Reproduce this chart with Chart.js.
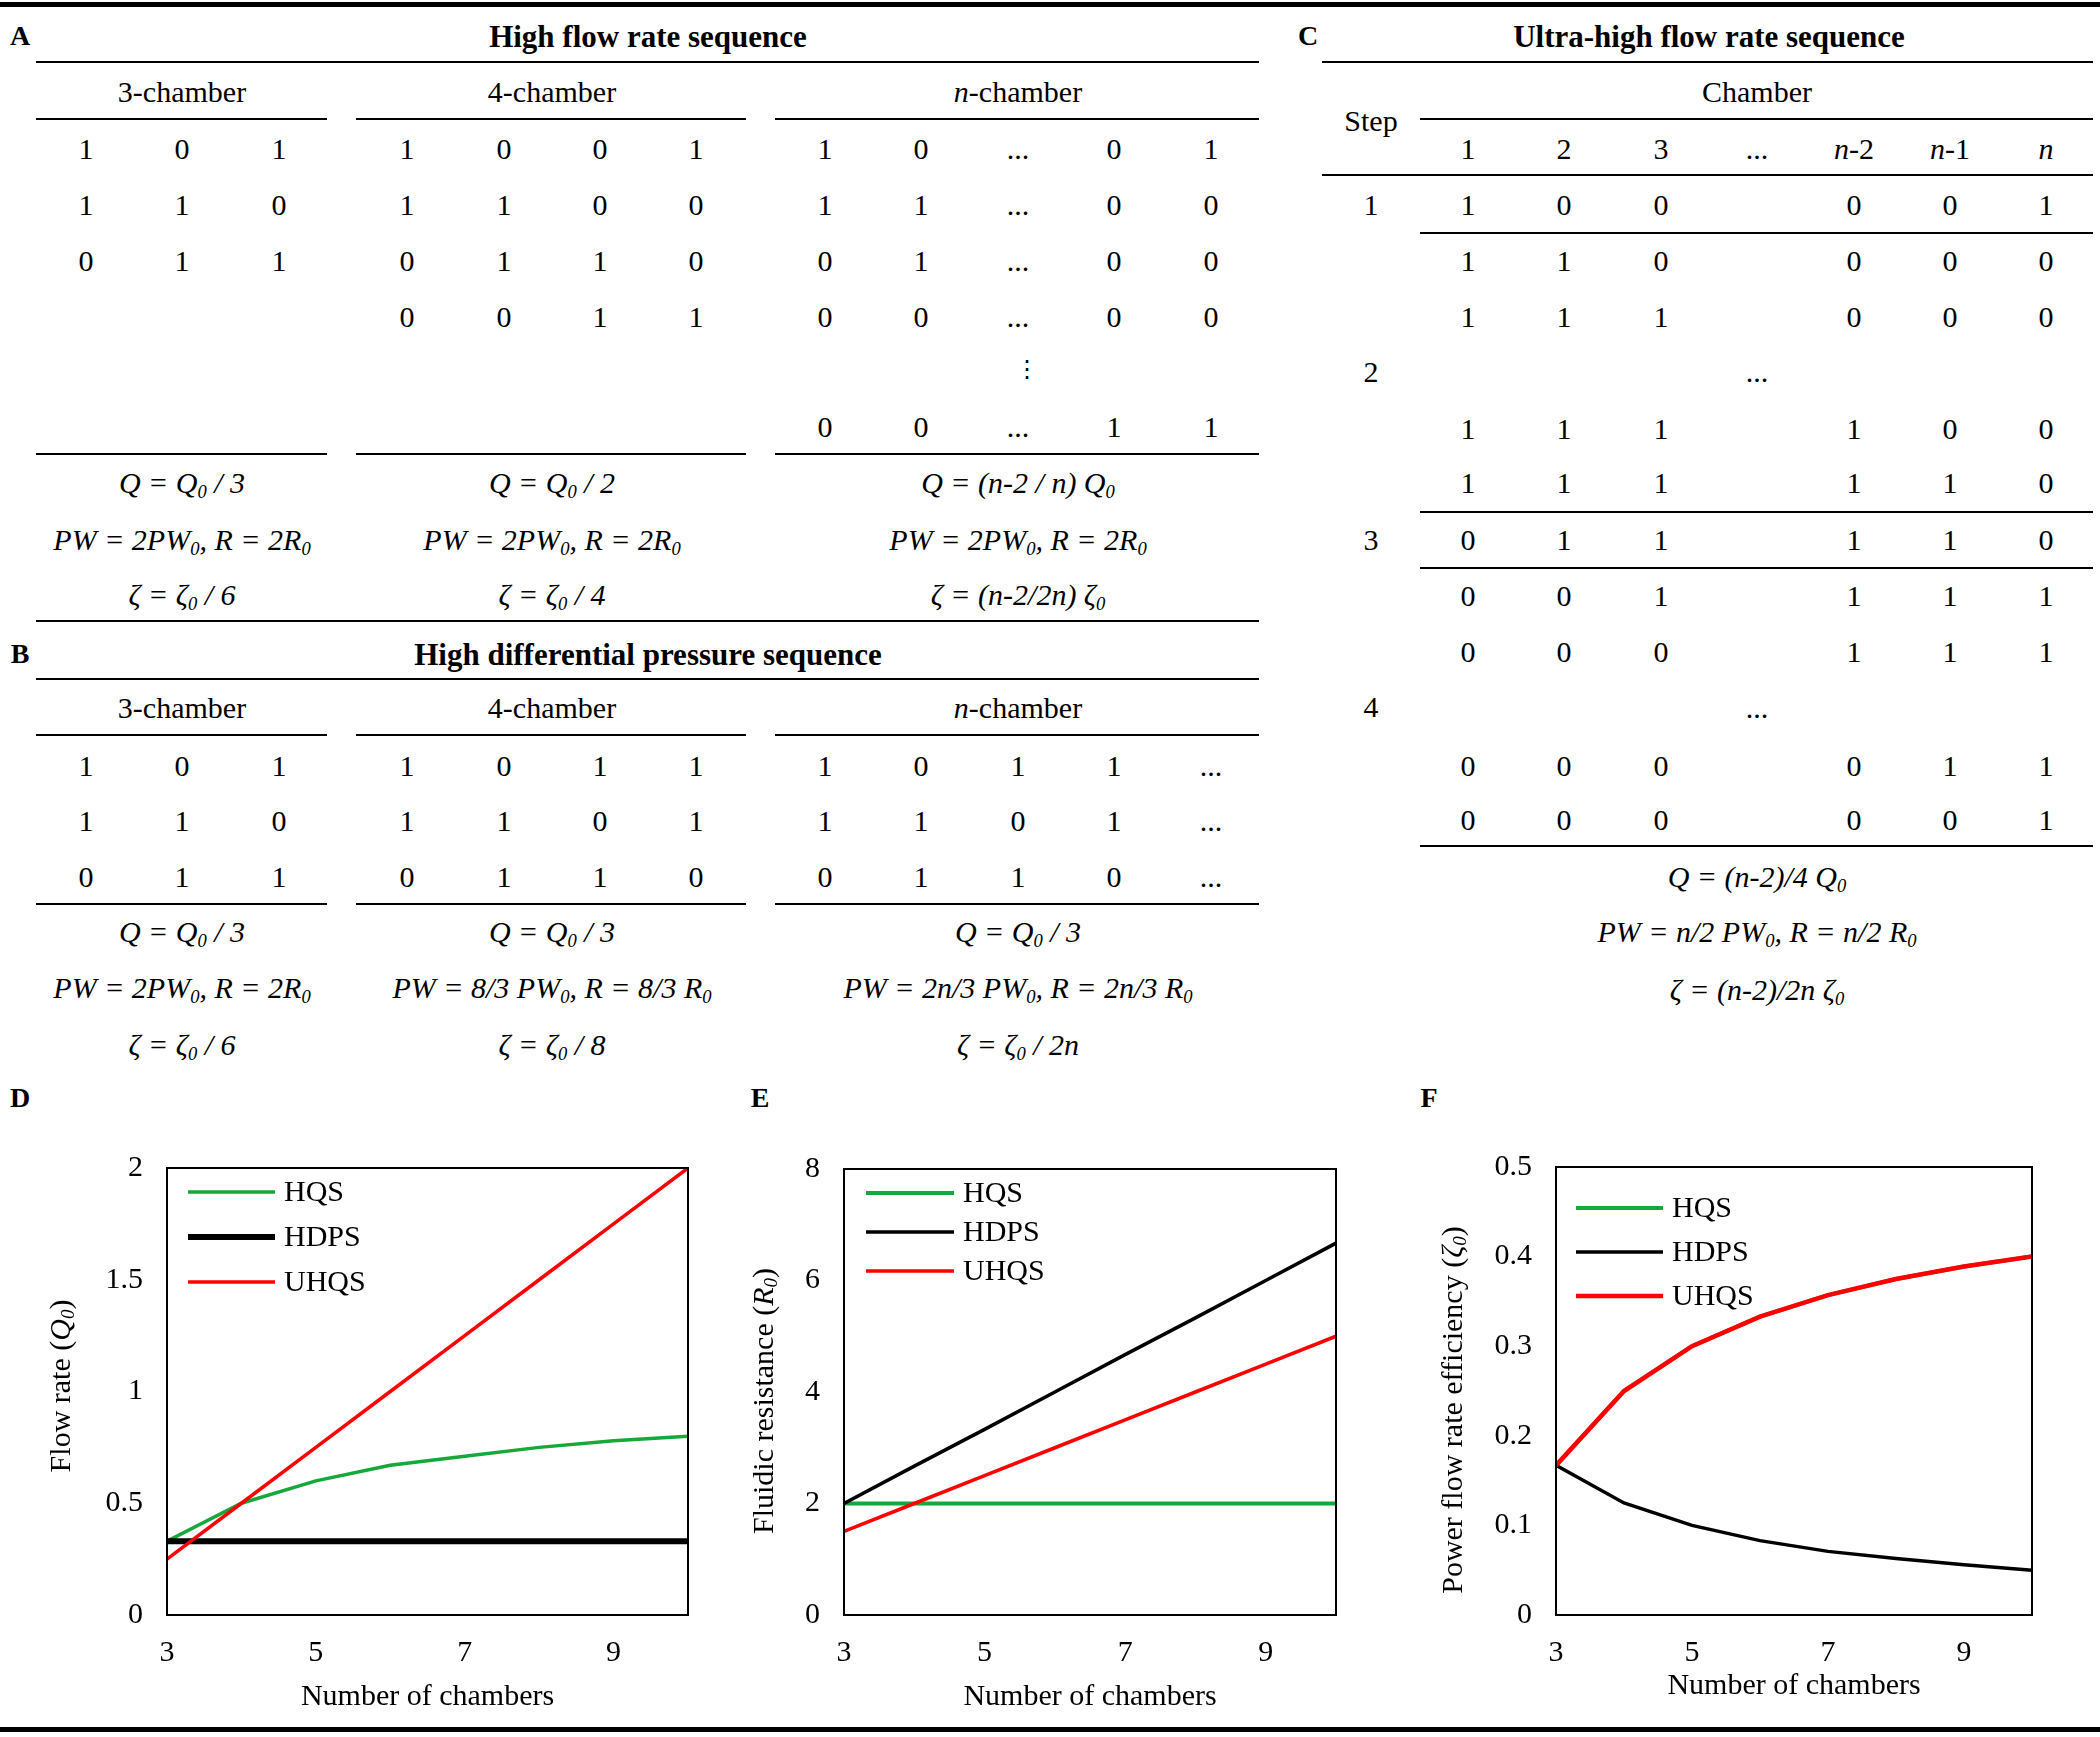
<!DOCTYPE html>
<html>
<head>
<meta charset="utf-8">
<script src="https://cdn.jsdelivr.net/npm/chart.js@4.4.1/dist/chart.umd.min.js"></script>
<style>
  body { margin: 0; background: #fff; }
  #page { position: relative; width: 2100px; height: 1737px; overflow: hidden; font-family: 'Liberation Serif', 'Times New Roman', serif; color: #000; }
  .t { position: absolute; transform: translate(-50%, -50%); white-space: nowrap; font-size: 30px; line-height: 1; }
  .b { font-weight: bold; font-size: 31px; }
  .i { font-style: italic; }
  .lab { font-weight: bold; font-size: 28px; }
  .vd { font-family: 'DejaVu Sans', sans-serif; font-size: 24px; }
  .ln { position: absolute; background: #000; }
  sub { font-size: 0.62em; vertical-align: -0.28em; line-height: 0; }
  canvas { position: absolute; }
</style>
</head>
<body>
<div id="page"></div>
<script>
// ---- table content ----
const hqsHeads = ['3-chamber', '4-chamber', '<i>n</i>-chamber'];
const hqs3 = [['1', '0', '1'], ['1', '1', '0'], ['0', '1', '1']];
const hqs4 = [['1', '0', '0', '1'], ['1', '1', '0', '0'], ['0', '1', '1', '0'], ['0', '0', '1', '1']];
const hqsN = [['1', '0', '...', '0', '1'], ['1', '1', '...', '0', '0'], ['0', '1', '...', '0', '0'],
              ['0', '0', '...', '0', '0'], ['', '', '⋮', '', ''], ['0', '0', '...', '1', '1']];
const hqsFormulas = [
  ['Q = Q<sub>0</sub> / 3', 'PW = 2PW<sub>0</sub>, R = 2R<sub>0</sub>', 'ζ = ζ<sub>0</sub> / 6'],
  ['Q = Q<sub>0</sub> / 2', 'PW = 2PW<sub>0</sub>, R = 2R<sub>0</sub>', 'ζ = ζ<sub>0</sub> / 4'],
  ['Q = (n-2 / n) Q<sub>0</sub>', 'PW = 2PW<sub>0</sub>, R = 2R<sub>0</sub>', 'ζ = (n-2/2n) ζ<sub>0</sub>']
];

const hdps3 = [['1', '0', '1'], ['1', '1', '0'], ['0', '1', '1']];
const hdps4 = [['1', '0', '1', '1'], ['1', '1', '0', '1'], ['0', '1', '1', '0']];
const hdpsN = [['1', '0', '1', '1', '...'], ['1', '1', '0', '1', '...'], ['0', '1', '1', '0', '...']];
const hdpsFormulas = [
  ['Q = Q<sub>0</sub> / 3', 'PW = 2PW<sub>0</sub>, R = 2R<sub>0</sub>', 'ζ = ζ<sub>0</sub> / 6'],
  ['Q = Q<sub>0</sub> / 3', 'PW = 8/3 PW<sub>0</sub>, R = 8/3 R<sub>0</sub>', 'ζ = ζ<sub>0</sub> / 8'],
  ['Q = Q<sub>0</sub> / 3', 'PW = 2n/3 PW<sub>0</sub>, R = 2n/3 R<sub>0</sub>', 'ζ = ζ<sub>0</sub> / 2n']
];

const uhqsHead = ['1', '2', '3', '...', '<i>n</i>-2', '<i>n</i>-1', '<i>n</i>'];
const uhqsSteps = ['1', '2', '3', '4'];
const uhqsRows = [
  ['1', '0', '0', '', '0', '0', '1'],
  ['1', '1', '0', '', '0', '0', '0'],
  ['1', '1', '1', '', '0', '0', '0'],
  ['', '', '', '...', '', '', ''],
  ['1', '1', '1', '', '1', '0', '0'],
  ['1', '1', '1', '', '1', '1', '0'],
  ['0', '1', '1', '', '1', '1', '0'],
  ['0', '0', '1', '', '1', '1', '1'],
  ['0', '0', '0', '', '1', '1', '1'],
  ['', '', '', '...', '', '', ''],
  ['0', '0', '0', '', '0', '1', '1'],
  ['0', '0', '0', '', '0', '0', '1']
];
const uhqsFormulas = ['Q = (n-2)/4 Q<sub>0</sub>', 'PW = n/2 PW<sub>0</sub>, R = n/2 R<sub>0</sub>', 'ζ = (n-2)/2n ζ<sub>0</sub>'];

// ---- chart data ----
const chambers = [3, 4, 5, 6, 7, 8, 9, 10];
const xTicks = [3, 5, 7, 9];
const seriesNames = ['HQS', 'HDPS', 'UHQS'];
const flowHQS = [0.33, 0.5, 0.6, 0.67, 0.71, 0.75, 0.78, 0.8];
const flowHDPS = [0.33, 0.33, 0.33, 0.33, 0.33, 0.33, 0.33, 0.33];
const flowUHQS = [0.25, 0.5, 0.75, 1, 1.25, 1.5, 1.75, 2];
const resHQS = [2, 2, 2, 2, 2, 2, 2, 2];
const resHDPS = [2, 2.67, 3.33, 4, 4.67, 5.33, 6, 6.67];
const resUHQS = [1.5, 2, 2.5, 3, 3.5, 4, 4.5, 5];
const effHQS = [0.167, 0.25, 0.3, 0.333, 0.357, 0.375, 0.389, 0.4];
const effHDPS = [0.167, 0.125, 0.1, 0.083, 0.071, 0.063, 0.056, 0.05];
const effUHQS = [0.167, 0.25, 0.3, 0.333, 0.357, 0.375, 0.389, 0.4];

const page = document.getElementById('page');

function put(html, x, y, cls) {
  const d = document.createElement('div');
  d.className = 't ' + (cls || '');
  d.innerHTML = html;
  d.style.left = x + 'px';
  d.style.top = y + 'px';
  page.appendChild(d);
  return d;
}

function hline(x1, x2, y, w) {
  w = w || 2;
  const d = document.createElement('div');
  d.className = 'ln';
  d.style.left = x1 + 'px';
  d.style.width = (x2 - x1) + 'px';
  d.style.top = (y - w / 2) + 'px';
  d.style.height = w + 'px';
  page.appendChild(d);
}

function cellClass(v) {
  return v === '⋮' ? 'vd' : '';
}

// frame rules
hline(0, 2100, 4, 5);
hline(0, 2100, 1729, 5);

// ---- panels A and B ----
const groupCols = [[86, 182, 279], [407, 504, 600, 696], [825, 921, 1018, 1114, 1211]];
const groupCenter = [182, 552, 1018];
const groupSpan = [[36, 327], [356, 746], [775, 1259]];

function seqTable(title, letter, grids, formulas, y) {
  put(letter, 20, y.title, 'lab');
  put(title, 648, y.title, 'b');
  hline(36, 1259, y.line1);
  grids.forEach((grid, g) => {
    put(hqsHeads[g], groupCenter[g], y.head);
    hline(groupSpan[g][0], groupSpan[g][1], y.line2);
    grid.forEach((row, r) => {
      row.forEach((v, c) => {
        if (v) put(v, groupCols[g][c] + (v === '⋮' ? 9 : 0), y.rows[r], cellClass(v));
      });
    });
    hline(groupSpan[g][0], groupSpan[g][1], y.line3);
    formulas[g].forEach((f, k) => put(f, groupCenter[g], y.formulas[k], 'i'));
  });
  if (y.line4) hline(36, 1259, y.line4);
}

seqTable('High flow rate sequence', 'A', [hqs3, hqs4, hqsN], hqsFormulas, {
  title: 36, line1: 62, head: 92, line2: 119,
  rows: [149, 205, 261, 317, 369, 427], line3: 454,
  formulas: [483, 540, 595], line4: 621
});

seqTable('High differential pressure sequence', 'B', [hdps3, hdps4, hdpsN], hdpsFormulas, {
  title: 654, line1: 679, head: 708, line2: 735,
  rows: [766, 821, 877], line3: 904,
  formulas: [932, 988, 1045]
});

// ---- panel C ----
const cCols = [1468, 1564, 1661, 1757, 1854, 1950, 2046];
const cRowY = [205, 261, 317, 372, 429, 483, 540, 596, 652, 708, 766, 820];
const cStepY = [205, 372, 540, 707];
put('C', 1308, 36, 'lab');
put('Ultra-high flow rate sequence', 1709, 36, 'b');
hline(1322, 2093, 62);
put('Chamber', 1757, 92);
put('Step', 1371, 121);
hline(1420, 2093, 119);
uhqsHead.forEach((h, c) => put(h, cCols[c], 149));
hline(1322, 2093, 175);
uhqsSteps.forEach((s, k) => put(s, 1371, cStepY[k]));
uhqsRows.forEach((row, r) => {
  row.forEach((v, c) => { if (v) put(v, cCols[c], cRowY[r]); });
});
hline(1420, 2093, 233);
hline(1420, 2093, 512);
hline(1420, 2093, 568);
hline(1420, 2093, 846);
uhqsFormulas.forEach((f, k) => put(f, 1757, [877, 932, 990][k], 'i'));

// ---- charts D, E, F ----
put('D', 20, 1098, 'lab');
put('E', 760, 1098, 'lab');
put('F', 1429, 1098, 'lab');

const serif = 'Liberation Serif';

function drawRich(ctx, segs, x, y) {
  const fontOf = s => (s.i ? 'italic ' : '') + (s.sub ? '19px ' : '30px ') + serif;
  let total = 0;
  segs.forEach(s => { ctx.font = fontOf(s); total += ctx.measureText(s.t).width; });
  let cx = x - total / 2;
  ctx.textAlign = 'left';
  ctx.textBaseline = 'middle';
  segs.forEach(s => {
    ctx.font = fontOf(s);
    ctx.fillText(s.t, cx, y + (s.sub ? 7 : 0));
    cx += ctx.measureText(s.t).width;
  });
}

const panelPlugin = {
  id: 'panel',
  afterDraw(chart, args, opts) {
    const ctx = chart.ctx;
    const a = chart.chartArea;
    ctx.save();
    ctx.strokeStyle = '#000';
    ctx.lineWidth = 2;
    ctx.strokeRect(a.left, a.top, a.right - a.left, a.bottom - a.top);

    // legend inside the plot
    const lg = opts.legend;
    chart.data.datasets.forEach((ds, k) => {
      const y = a.top + lg.dy + k * lg.gap;
      ctx.beginPath();
      ctx.strokeStyle = ds.borderColor;
      ctx.lineWidth = ds.borderWidth;
      ctx.moveTo(a.left + lg.dx, y);
      ctx.lineTo(a.left + lg.dx + lg.len, y);
      ctx.stroke();
      ctx.fillStyle = '#000';
      ctx.font = '30px ' + serif;
      ctx.textAlign = 'left';
      ctx.textBaseline = 'middle';
      ctx.fillText(ds.label, a.left + lg.dx + lg.len + 9, y + 1);
    });

    ctx.fillStyle = '#000';
    drawRich(ctx, [{ t: 'Number of chambers' }], (a.left + a.right) / 2, opts.xTitleY);
    ctx.translate(opts.yTitleX, opts.yTitleY);
    ctx.rotate(-Math.PI / 2);
    drawRich(ctx, opts.yTitle, 0, 0);
    ctx.restore();
  }
};

function lineChart(spec) {
  const box = spec.box;
  const cv = document.createElement('canvas');
  cv.width = box.w;
  cv.height = box.h;
  cv.style.left = box.x + 'px';
  cv.style.top = box.y + 'px';
  page.appendChild(cv);
  const l = spec.area.l - box.x, t = spec.area.t - box.y;
  const r = spec.area.r - box.x, b = spec.area.b - box.y;
  const tickFont = { family: serif, size: 30 };
  return new Chart(cv, {
    type: 'line',
    data: {
      datasets: spec.series.map((s, k) => ({
        label: seriesNames[k],
        data: chambers.map((c, i) => ({ x: c, y: s.values[i] })),
        borderColor: s.color,
        borderWidth: s.width,
        pointRadius: 0,
        fill: false,
        tension: 0,
        order: s.order
      }))
    },
    options: {
      responsive: false,
      animation: false,
      devicePixelRatio: 1,
      layout: { padding: { left: 0, top: t, right: box.w - r, bottom: 0 } },
      plugins: {
        legend: { display: false },
        tooltip: { enabled: false },
        panel: {
          legend: spec.legend,
          yTitle: spec.yTitle,
          yTitleX: spec.yTitleX - box.x,
          yTitleY: spec.yTitleY - box.y,
          xTitleY: spec.xTitleY - box.y
        }
      },
      scales: {
        x: {
          type: 'linear', min: 3, max: 10,
          grid: { display: false, drawTicks: false },
          border: { display: false },
          afterBuildTicks: sc => { sc.ticks = xTicks.map(v => ({ value: v })); },
          afterFit: sc => { sc.height = box.h - b; },
          ticks: { padding: 20, color: '#000', font: tickFont, maxRotation: 0, autoSkip: false }
        },
        y: {
          min: 0, max: spec.yMax,
          grid: { display: false, drawTicks: false },
          border: { display: false },
          afterFit: sc => { sc.width = l; },
          ticks: {
            stepSize: spec.yStep, padding: 24, color: '#000', font: tickFont,
            callback: v => String(Math.round(v * 100) / 100)
          }
        }
      }
    },
    plugins: [panelPlugin]
  });
}

const green = '#16a83a', black = '#000000', red = '#ff0000';

lineChart({
  box: { x: 0, y: 1120, w: 720, h: 600 },
  area: { l: 167, t: 1168, r: 688, b: 1615 },
  yMax: 2, yStep: 0.5,
  series: [
    { values: flowHQS, color: green, width: 3.5, order: 2 },
    { values: flowHDPS, color: black, width: 6, order: 1 },
    { values: flowUHQS, color: red, width: 3.5, order: 0 }
  ],
  legend: { dx: 21, dy: 24, gap: 45, len: 87 },
  yTitle: [{ t: 'Flow rate (' }, { t: 'Q', i: true }, { t: '0', i: true, sub: true }, { t: ')' }],
  yTitleX: 62, yTitleY: 1386, xTitleY: 1697
});

lineChart({
  box: { x: 720, y: 1120, w: 680, h: 600 },
  area: { l: 844, t: 1169, r: 1336, b: 1615 },
  yMax: 8, yStep: 2,
  series: [
    { values: resHQS, color: green, width: 4, order: 2 },
    { values: resHDPS, color: black, width: 3.5, order: 1 },
    { values: resUHQS, color: red, width: 3.5, order: 0 }
  ],
  legend: { dx: 22, dy: 24, gap: 39, len: 88 },
  yTitle: [{ t: 'Fluidic resistance (' }, { t: 'R', i: true }, { t: '0', i: true, sub: true }, { t: ')' }],
  yTitleX: 765, yTitleY: 1401, xTitleY: 1697
});

lineChart({
  box: { x: 1400, y: 1120, w: 700, h: 600 },
  area: { l: 1556, t: 1167, r: 2032, b: 1615 },
  yMax: 0.5, yStep: 0.1,
  series: [
    { values: effHQS, color: green, width: 4, order: 2 },
    { values: effHDPS, color: black, width: 3.5, order: 1 },
    { values: effUHQS, color: red, width: 4.5, order: 0 }
  ],
  legend: { dx: 20, dy: 41, gap: 44, len: 87 },
  yTitle: [{ t: 'Power flow rate efficiency (' }, { t: 'ζ', i: true }, { t: '0', i: true, sub: true }, { t: ')' }],
  yTitleX: 1454, yTitleY: 1410, xTitleY: 1686
});
</script>
</body>
</html>
